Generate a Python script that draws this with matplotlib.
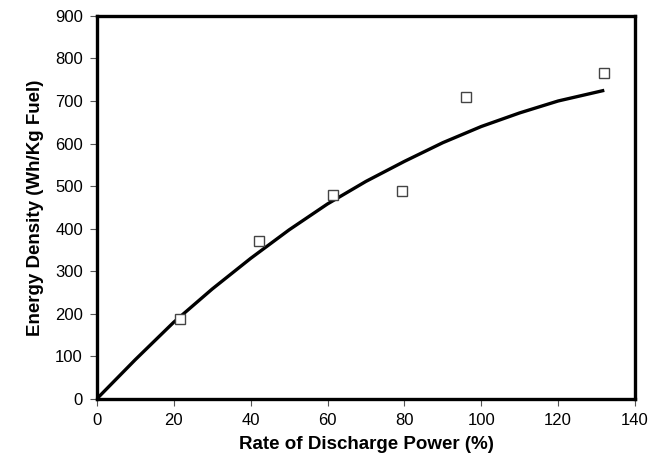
import matplotlib
matplotlib.use("Agg")
import matplotlib.pyplot as plt

# measured points (open squares)
rate = [21.7, 42.2, 61.3, 79.4, 96.0, 131.9]
energy = [187, 370, 479, 489, 710, 765]

# smooth curve
curve_x = [0, 10, 20, 30, 40, 50, 60, 70, 80, 90, 100, 110, 120, 132]
curve_y = [0, 92, 180, 258, 330, 397, 458, 511, 558, 602, 640, 672, 700, 725]

x_ticks = [0, 20, 40, 60, 80, 100, 120, 140]
y_ticks = [0, 100, 200, 300, 400, 500, 600, 700, 800, 900]

plt.rcParams['font.family'] = ['Liberation Sans', 'DejaVu Sans']

fig = plt.figure(figsize=(6.5, 4.67), dpi=100)
ax = fig.add_axes([0.149, 0.146, 0.828, 0.82])

ax.plot(curve_x, curve_y, color="black", linewidth=2.4, solid_capstyle="butt")
ax.plot(rate, energy, linestyle="none", marker="s", markersize=7,
        markerfacecolor="white", markeredgecolor="#444444", markeredgewidth=1.0)

ax.set_xlim(0, 140)
ax.set_ylim(0, 900)
ax.set_xticks(x_ticks)
ax.set_yticks(y_ticks)
ax.tick_params(direction="out", length=5, width=0.8, color="#555555",
               labelsize=12, pad=5)

for s in ax.spines.values():
    s.set_linewidth(2.4)
    s.set_color("black")

ax.set_xlabel("Rate of Discharge Power (%)", fontsize=13.5, fontweight="bold", labelpad=6)
ax.set_ylabel("Energy Density (Wh/Kg Fuel)", fontsize=13.5, fontweight="bold", labelpad=8)

fig.savefig("out.png", dpi=100)
